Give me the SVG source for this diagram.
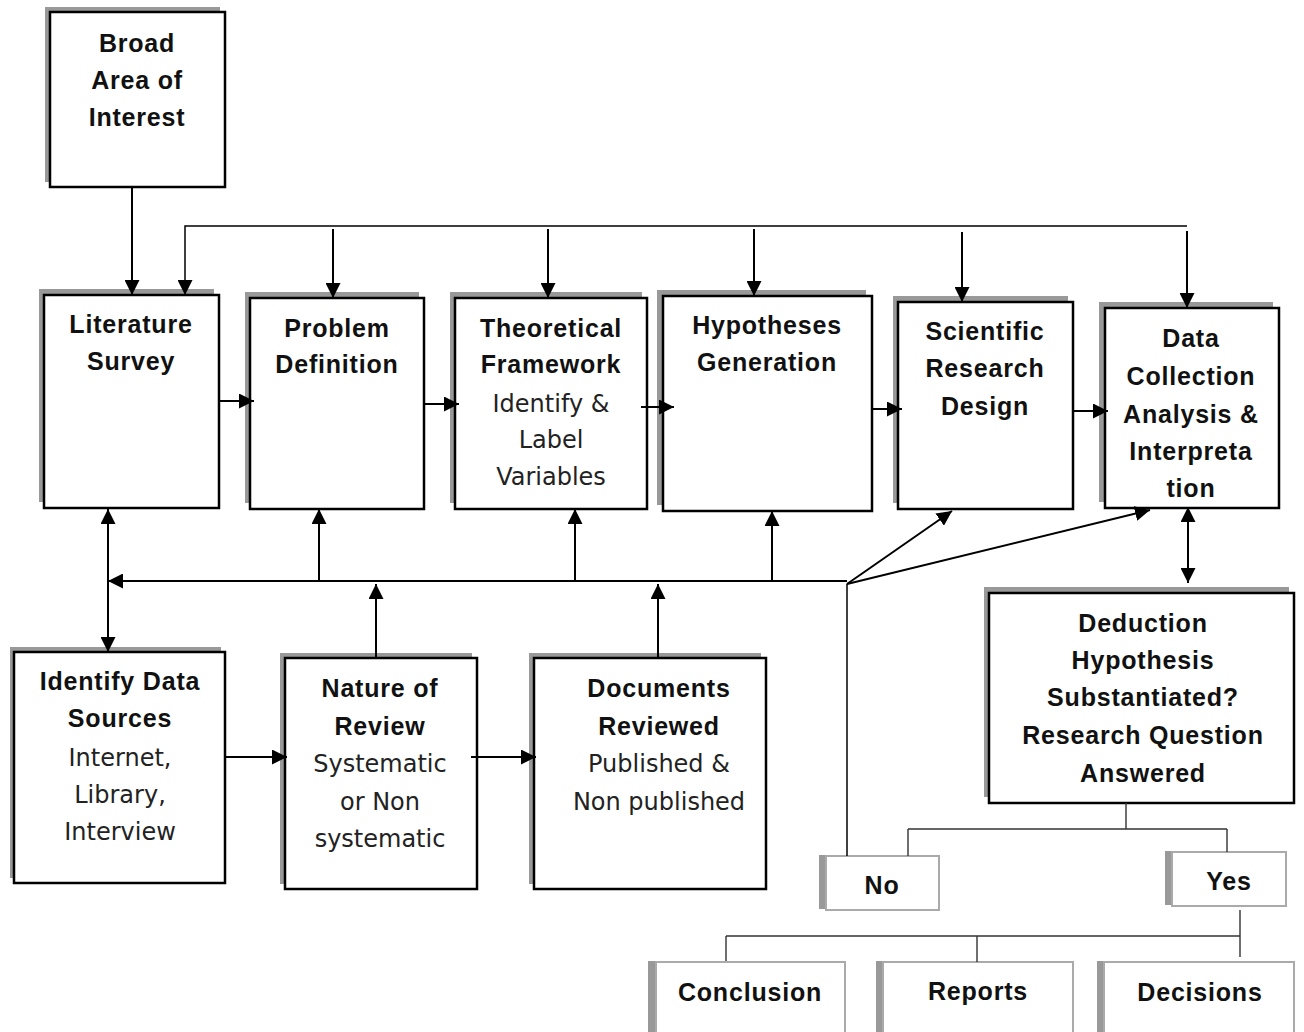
<svg xmlns="http://www.w3.org/2000/svg" width="1304" height="1032" viewBox="0 0 1304 1032">
  <style>
    .shadow { fill: #999999; }
    .box { fill: #ffffff; stroke: #000000; stroke-width: 2.5; }
    .lbox { fill: #ffffff; stroke: #aaaaaa; stroke-width: 2; }
    .b { font-family: "Liberation Sans", Arial, sans-serif; font-weight: bold; font-size: 25px; letter-spacing: 0.8px; fill: #111111; text-anchor: middle; }
    .r { font-family: "DejaVu Sans", "Liberation Sans", sans-serif; font-size: 24px; fill: #222222; text-anchor: middle; }
    .conn { fill: none; stroke: #000000; stroke-width: 2; }
    .thin { fill: none; stroke: #000000; stroke-width: 1.5; }
    .tree { fill: none; stroke: #333333; stroke-width: 1.4; }
  </style>
  <defs>
    <marker id="arr" viewBox="0 0 15 15" refX="15" refY="7.5" markerWidth="15" markerHeight="15" markerUnits="userSpaceOnUse" orient="auto-start-reverse">
      <path d="M0,0 L15,7.5 L0,15 z" fill="#000000"/>
    </marker>
  </defs>
  <rect width="1304" height="1032" fill="#ffffff"/>

  <!-- upper chain -->
  <g id="broad-area">
    <rect class="shadow" x="45" y="7" width="175" height="175"/>
    <rect class="box" x="50" y="12" width="175" height="175"/>
    <text class="b" x="137" y="52">Broad</text>
    <text class="b" x="137" y="89">Area of</text>
    <text class="b" x="137" y="126">Interest</text>
  </g>

  <g id="literature-survey">
    <rect class="shadow" x="39" y="289" width="175" height="213"/>
    <rect class="box" x="44" y="295" width="175" height="213"/>
    <text class="b" x="131" y="333">Literature</text>
    <text class="b" x="131" y="370">Survey</text>
  </g>

  <g id="problem-definition">
    <rect class="shadow" x="245" y="292" width="174" height="211"/>
    <rect class="box" x="250" y="298" width="174" height="211"/>
    <text class="b" x="337" y="337">Problem</text>
    <text class="b" x="337" y="373">Definition</text>
  </g>

  <g id="theoretical-framework">
    <rect class="shadow" x="450" y="292" width="192" height="211"/>
    <rect class="box" x="455" y="298" width="192" height="211"/>
    <text class="b" x="551" y="337">Theoretical</text>
    <text class="b" x="551" y="373">Framework</text>
    <text class="r" x="551" y="412">Identify &amp;</text>
    <text class="r" x="551" y="448">Label</text>
    <text class="r" x="551" y="485">Variables</text>
  </g>

  <g id="hypotheses-generation">
    <rect class="shadow" x="657" y="290" width="209" height="215"/>
    <rect class="box" x="663" y="296" width="209" height="215"/>
    <text class="b" x="767" y="334">Hypotheses</text>
    <text class="b" x="767" y="371">Generation</text>
  </g>

  <g id="research-design">
    <rect class="shadow" x="893" y="296" width="175" height="207"/>
    <rect class="box" x="898" y="302" width="175" height="207"/>
    <text class="b" x="985" y="340">Scientific</text>
    <text class="b" x="985" y="377">Research</text>
    <text class="b" x="985" y="415">Design</text>
  </g>

  <g id="data-collection">
    <rect class="shadow" x="1099" y="302" width="174" height="200"/>
    <rect class="box" x="1105" y="308" width="174" height="200"/>
    <text class="b" x="1191" y="347">Data</text>
    <text class="b" x="1191" y="385">Collection</text>
    <text class="b" x="1191" y="423">Analysis &amp;</text>
    <text class="b" x="1191" y="460">Interpreta</text>
    <text class="b" x="1191" y="497">tion</text>
  </g>

  <!-- lower chain -->
  <g id="data-sources">
    <rect class="shadow" x="10" y="647" width="211" height="231"/>
    <rect class="box" x="14" y="652" width="211" height="231"/>
    <text class="b" x="120" y="690">Identify Data</text>
    <text class="b" x="120" y="727">Sources</text>
    <text class="r" x="120" y="766">Internet,</text>
    <text class="r" x="120" y="803">Library,</text>
    <text class="r" x="120" y="840">Interview</text>
  </g>

  <g id="nature-of-review">
    <rect class="shadow" x="280" y="653" width="192" height="231"/>
    <rect class="box" x="285" y="658" width="192" height="231"/>
    <text class="b" x="380" y="697">Nature of</text>
    <text class="b" x="380" y="735">Review</text>
    <text class="r" x="380" y="772">Systematic</text>
    <text class="r" x="380" y="810">or Non</text>
    <text class="r" x="380" y="847">systematic</text>
  </g>

  <g id="documents-reviewed">
    <rect class="shadow" x="529" y="653" width="232" height="231"/>
    <rect class="box" x="534" y="658" width="232" height="231"/>
    <text class="b" x="659" y="697">Documents</text>
    <text class="b" x="659" y="735">Reviewed</text>
    <text class="r" x="659" y="772">Published &amp;</text>
    <text class="r" x="659" y="810">Non published</text>
  </g>

  <g id="deduction">
    <rect class="shadow" x="984" y="587" width="305" height="210"/>
    <rect class="box" x="989" y="593" width="305" height="210"/>
    <text class="b" x="1143" y="632">Deduction</text>
    <text class="b" x="1143" y="669">Hypothesis</text>
    <text class="b" x="1143" y="706">Substantiated?</text>
    <text class="b" x="1143" y="744">Research Question</text>
    <text class="b" x="1143" y="782">Answered</text>
  </g>

  <!-- outcome boxes -->
  <g id="no">
    <rect class="shadow" x="819" y="855" width="113" height="54"/>
    <rect class="lbox" x="826" y="856" width="113" height="54"/>
    <text class="b" x="882" y="894">No</text>
  </g>

  <g id="yes">
    <rect class="shadow" x="1165" y="851" width="114" height="54"/>
    <rect class="lbox" x="1172" y="852" width="114" height="54"/>
    <text class="b" x="1229" y="890">Yes</text>
  </g>

  <g id="conclusion">
    <rect class="shadow" x="648" y="961" width="190" height="90"/>
    <rect class="lbox" x="656" y="962" width="189" height="90"/>
    <text class="b" x="750" y="1001">Conclusion</text>
  </g>

  <g id="reports">
    <rect class="shadow" x="876" y="961" width="190" height="90"/>
    <rect class="lbox" x="883" y="962" width="190" height="90"/>
    <text class="b" x="978" y="1000">Reports</text>
  </g>

  <g id="decisions">
    <rect class="shadow" x="1097" y="961" width="190" height="90"/>
    <rect class="lbox" x="1104" y="962" width="190" height="90"/>
    <text class="b" x="1200" y="1001">Decisions</text>
  </g>

  <!-- connectors, drawn last so arrow tips sit on the box borders -->
  <g id="connectors">
    <path class="conn" d="M132,187 V295" marker-end="url(#arr)"/>
    <path class="thin" d="M1187,226 H185 V295" marker-end="url(#arr)"/>
    <path class="conn" d="M333,229 V298" marker-end="url(#arr)"/>
    <path class="conn" d="M548,229 V298" marker-end="url(#arr)"/>
    <path class="conn" d="M754,229 V296" marker-end="url(#arr)"/>
    <path class="conn" d="M962,232 V302" marker-end="url(#arr)"/>
    <path class="conn" d="M1187,231 V308" marker-end="url(#arr)"/>

    <path class="conn" d="M220,401 H254" marker-end="url(#arr)"/>
    <path class="conn" d="M425,404 H459" marker-end="url(#arr)"/>
    <path class="conn" d="M641,407 H674" marker-end="url(#arr)"/>
    <path class="conn" d="M873,409 H902" marker-end="url(#arr)"/>
    <path class="conn" d="M1074,411 H1108" marker-end="url(#arr)"/>

    <path class="conn" d="M226,757 H287" marker-end="url(#arr)"/>
    <path class="conn" d="M471,757 H536" marker-end="url(#arr)"/>

    <path class="conn" d="M847,581 H108" marker-end="url(#arr)"/>
    <path class="conn" d="M108,509 V652" marker-start="url(#arr)" marker-end="url(#arr)"/>
    <path class="conn" d="M319,580 V509" marker-end="url(#arr)"/>
    <path class="conn" d="M575,580 V509" marker-end="url(#arr)"/>
    <path class="conn" d="M772,580 V511" marker-end="url(#arr)"/>
    <path class="conn" d="M376,657 V584" marker-end="url(#arr)"/>
    <path class="conn" d="M658,657 V584" marker-end="url(#arr)"/>

    <path class="thin" d="M847,856 V584"/>
    <path class="conn" d="M847,584 L952,511" marker-end="url(#arr)"/>
    <path class="conn" d="M847,584 L1150,510" marker-end="url(#arr)"/>
    <path class="conn" d="M1188,507 V583" marker-start="url(#arr)" marker-end="url(#arr)"/>

    <path class="tree" d="M1126,803 V829 M908,829 H1227 M908,829 V856 M1227,829 V852"/>
    <path class="tree" d="M1240,910 V957 M726,936 H1240 M726,936 V961 M977,936 V962"/>
  </g>
</svg>
